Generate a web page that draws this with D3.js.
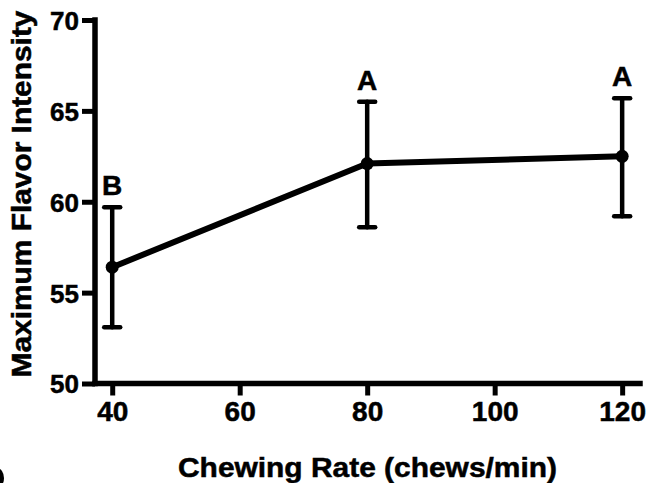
<!DOCTYPE html>
<html>
<head>
<meta charset="utf-8">
<script src="https://cdn.jsdelivr.net/npm/d3@7"></script>
<style>
  html, body { margin: 0; padding: 0; background: #fff; }
  svg { display: block; }
  text { font-family: "Liberation Sans", Arial, Helvetica, sans-serif; font-weight: bold; fill: #000; stroke: #000; stroke-width: 0.5px; }
</style>
</head>
<body>
<div id="chart"></div>
<script>
// ---- data ----
const rates = [40, 80, 120];
const means = [56.4, 62.1, 62.5];
const lower = [53.1, 58.6, 59.2];
const upper = [59.7, 65.5, 65.7];
const groups = ["B", "A", "A"];
const xTicks = [40, 60, 80, 100, 120];
const yTicks = [50, 55, 60, 65, 70];

const W = 647, H = 483;
const svg = d3.select("#chart").append("svg").attr("width", W).attr("height", H);

const x = d3.scaleLinear().domain([37.3, 122.8]).range([95, 640]);
const y = d3.scaleLinear().domain([50, 70]).range([383.5, 20]);

// y axis
const yAxis = svg.append("g").attr("transform", `translate(${x(37.3)},0)`)
  .call(d3.axisLeft(y).tickValues(yTicks).tickSize(13).tickPadding(3).tickFormat(d3.format("d")));
yAxis.select(".domain").attr("d", `M0,${y(70)}V${y(50)}`).attr("stroke", "#000").attr("stroke-width", 5.5).attr("stroke-linecap", "square");
yAxis.selectAll(".tick line").attr("stroke", "#000").attr("stroke-width", 5);
yAxis.selectAll(".tick text").style("font-size", "26px").attr("dy", "0.36em");

// x axis
const xAxis = svg.append("g").attr("transform", `translate(0,${y(50)})`)
  .call(d3.axisBottom(x).tickValues(xTicks).tickSize(12).tickPadding(6).tickFormat(d3.format("d")));
xAxis.select(".domain").attr("d", `M${x(37.3)},0H${x(122.8)}`).attr("stroke", "#000").attr("stroke-width", 5.5).attr("stroke-linecap", "square");
xAxis.selectAll(".tick line").attr("stroke", "#000").attr("stroke-width", 5);
xAxis.selectAll(".tick text").style("font-size", "28px");

// axis titles
svg.append("text")
  .attr("x", (178 + 557) / 2).attr("y", 477)
  .attr("text-anchor", "middle").style("font-size", "27px")
  .attr("textLength", 379).attr("lengthAdjust", "spacingAndGlyphs")
  .text("Chewing Rate (chews/min)");
svg.append("text")
  .attr("transform", "translate(31,194) rotate(-90)")
  .attr("text-anchor", "middle").style("font-size", "27px")
  .attr("textLength", 367).attr("lengthAdjust", "spacingAndGlyphs")
  .text("Maximum Flavor Intensity");

const data = rates.map((r, i) => ({ r, m: means[i], lo: lower[i], hi: upper[i], g: groups[i] }));

// line
svg.append("path").datum(data)
  .attr("fill", "none").attr("stroke", "#000").attr("stroke-width", 6).attr("stroke-linejoin", "round")
  .attr("d", d3.line().x(d => x(d.r)).y(d => y(d.m)));

// error bars
const eb = svg.append("g").attr("stroke", "#000").attr("stroke-width", 4.5).attr("stroke-linecap", "round");
eb.selectAll(".v").data(data).join("line")
  .attr("x1", d => x(d.r)).attr("x2", d => x(d.r)).attr("y1", d => y(d.lo)).attr("y2", d => y(d.hi));
eb.selectAll(".c1").data(data).join("line")
  .attr("x1", d => x(d.r) - 8).attr("x2", d => x(d.r) + 8).attr("y1", d => y(d.hi)).attr("y2", d => y(d.hi));
eb.selectAll(".c2").data(data).join("line")
  .attr("x1", d => x(d.r) - 8).attr("x2", d => x(d.r) + 8).attr("y1", d => y(d.lo)).attr("y2", d => y(d.lo));

// markers
svg.selectAll(".pt").data(data).join("circle")
  .attr("cx", d => x(d.r)).attr("cy", d => y(d.m)).attr("r", 6.5).attr("fill", "#000");

// group letters
svg.selectAll(".lab").data(data).join("text")
  .attr("x", d => x(d.r)).attr("y", d => y(d.hi) - 12)
  .attr("text-anchor", "middle").style("font-size", "28px")
  .text(d => d.g);

// cropped fragment of a neighbouring mark at the bottom-left edge
svg.append("ellipse").attr("cx", -3).attr("cy", 478).attr("rx", 7).attr("ry", 10).attr("fill", "#000");
</script>
</body>
</html>
